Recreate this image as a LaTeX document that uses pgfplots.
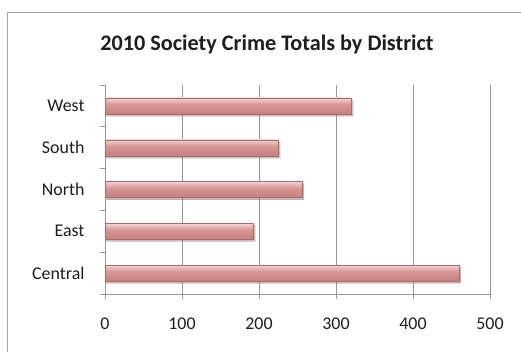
\documentclass[border=0pt]{standalone}
\usepackage{pgfplots}
\pgfplotsset{compat=1.18}
\usetikzlibrary{shadows}
\usepackage{fontspec}
\setmainfont{Carlito}
\definecolor{gridc}{RGB}{150,150,150}
\definecolor{txt}{RGB}{30,30,30}
\definecolor{baredge}{RGB}{165,110,110}
\definecolor{bs0}{RGB}{168,104,104}
\definecolor{bs1}{RGB}{198,128,128}
\definecolor{bs2}{RGB}{216,150,150}
\definecolor{bs3}{RGB}{244,212,212}
\definecolor{bs4}{RGB}{232,192,192}
\definecolor{bs5}{RGB}{205,168,168}
\pgfdeclareverticalshading{barshade}{100bp}{%
  color(0bp)=(bs0);
  color(25bp)=(bs1);
  color(55bp)=(bs2);
  color(75bp)=(bs3);
  color(88bp)=(bs4);
  color(100bp)=(bs5)}
\pgfplotsset{mybar/.style={xbar, bar width=16bp, bar shift=0pt,
    draw=baredge, line width=0.4bp, shading=barshade,
    drop shadow={shadow xshift=1.5bp, shadow yshift=-2bp, opacity=0.2, fill=black}}}
\begin{document}
\begin{tikzpicture}
\useasboundingbox (0,0) rectangle (521bp,-352bp);
\fill[white] (0,0) rectangle (521bp,-352bp);
\draw[gray!70, line width=0.8bp] (7bp,-12bp) rectangle (540bp,-370bp);
\node[font=\fontsize{22.3}{26}\selectfont\bfseries, text=txt] at (267bp,-44bp) {2010 Society Crime Totals by District};
\begin{axis}[
  at={(105bp,-294bp)}, anchor=south west,
  scale only axis, width=385bp, height=209bp,
  xmin=0, xmax=500, ymin=-0.5, ymax=4.5,
  axis x line*=bottom, axis y line*=left,
  axis line style={gridc, line width=0.8bp},
  xtick={0,100,...,500},
  xmajorgrids, major grid style={gridc, line width=0.8bp},
  ytick={0,1,2,3,4},
  yticklabels={Central,East,North,South,West},
  minor ytick={-0.5,0.5,1.5,2.5,3.5,4.5},
  major y tick style={draw=none},
  minor tick length=5bp,
  major tick length=5bp,
  tick align=outside,
  tick style={gridc, line width=0.8bp},
  ticklabel style={font=\fontsize{18}{21}\selectfont, text=txt},
  xticklabel style={yshift=-15bp},
  yticklabel style={xshift=-12bp},
  /pgf/number format/assume math mode=true,
  clip=false,
]
\addplot[mybar] coordinates {(460,0)};
\addplot[mybar] coordinates {(193,1)};
\addplot[mybar] coordinates {(256,2)};
\addplot[mybar] coordinates {(225,3)};
\addplot[mybar] coordinates {(320,4)};
\end{axis}
\end{tikzpicture}
\end{document}
